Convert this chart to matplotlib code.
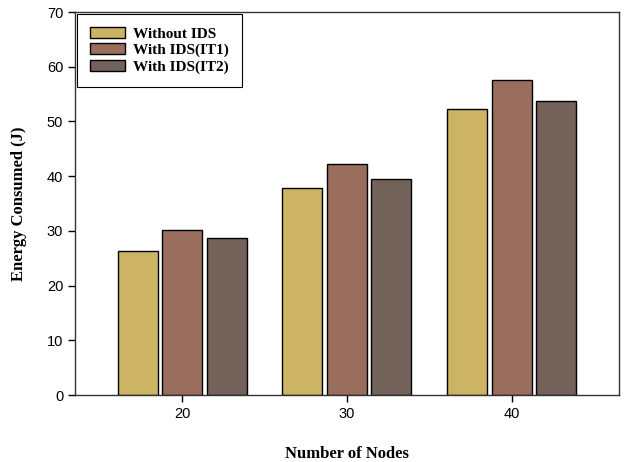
import matplotlib
matplotlib.use("Agg")
import matplotlib.pyplot as plt
import numpy as np

nodes = ["20", "30", "40"]
without_ids = [26.4, 37.8, 52.2]
with_ids_it1 = [30.1, 42.3, 57.5]
with_ids_it2 = [28.7, 39.4, 53.8]
series_names = ["Without IDS", "With IDS(IT1)", "With IDS(IT2)"]
colors = ["#CDB464", "#9A6E5C", "#72625A"]

fig = plt.figure(figsize=(6.25, 4.62), dpi=100)
ax = fig.add_axes([0.12, 0.145, 0.87, 0.829])

x = np.arange(len(nodes))
width = 0.242
pitch = 0.27
for i, (vals, name, c) in enumerate(zip([without_ids, with_ids_it1, with_ids_it2],
                                         series_names, colors)):
    ax.bar(x + (i - 1) * pitch, vals, width, color=c, edgecolor="black",
           linewidth=1.0, label=name)

ax.set_xlim(-0.65, 2.65)
ax.set_ylim(0, 70)
ax.set_xticks(x)
ax.set_xticklabels(nodes, fontfamily="Liberation Sans", fontsize=10.5)
ax.set_yticks(np.arange(0, 71, 10))
for lab in ax.get_yticklabels():
    lab.set_fontfamily("Liberation Sans")
    lab.set_fontsize(10.5)
ax.tick_params(direction="out", length=5, width=1)
for s in ax.spines.values():
    s.set_linewidth(1.0)
    s.set_color("#333333")

ax.set_xlabel("Number of Nodes", fontfamily="Liberation Serif",
              fontweight="bold", fontsize=12, labelpad=18)
ax.set_ylabel("Energy Consumed (J)", fontfamily="Liberation Serif",
              fontweight="bold", fontsize=12, labelpad=14)

leg = ax.legend(loc="upper left", bbox_to_anchor=(0.004, 0.995), borderaxespad=0,
                prop={"family": "Liberation Serif", "weight": "bold", "size": 11},
                fancybox=False, edgecolor="black", framealpha=1,
                handlelength=2.3, handleheight=0.75, labelspacing=0.15,
                borderpad=0.85, handletextpad=0.5)
leg.get_frame().set_linewidth(0.8)

fig.savefig("out.png", dpi=100)
